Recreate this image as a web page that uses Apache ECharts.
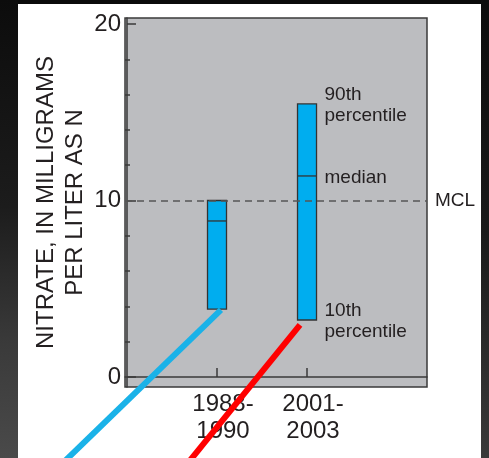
<!DOCTYPE html>
<html>
<head>
<meta charset="utf-8">
<script src="https://cdn.jsdelivr.net/npm/echarts@6/dist/echarts.min.js"></script>
<style>
  html, body { margin: 0; padding: 0; width: 489px; height: 458px; overflow: hidden; background: #0a0a0a; }
  #leftStrip { position: absolute; left: 0; top: 0; width: 18px; height: 458px;
    background: linear-gradient(to bottom, #0c0c0c 0%, #1c1c1c 45%, #3a3a3a 75%, #4a4a4a 100%); }
  #rightStrip { position: absolute; left: 481px; top: 0; width: 8px; height: 458px;
    background: linear-gradient(to bottom, #0c0c0c 0%, #1a1a1a 50%, #3a3a3a 100%); }
  #panel { position: absolute; left: 18px; top: 4px; width: 463px; height: 454px; background: #ffffff; }
  #chart { position: absolute; left: 0; top: 0; width: 489px; height: 458px; }
</style>
</head>
<body>
<div id="leftStrip"></div>
<div id="rightStrip"></div>
<div id="panel"></div>
<div id="chart"></div>
<script>
// ---- data ----
const categories = ['1988-\n1990', '2001-\n2003'];
const p10 = [3.85, 3.23];
const median = [8.84, 11.39];
const p90 = [10.0, 15.47];
const yMajorTicks = [0, 10, 20];
const yMinorTicks = [2, 4, 6, 8, 12, 14, 16, 18];
const mclValue = 10;
const blueLine = [[1.044, 3.80], [-0.793, -5.27]];
const redLine = [[1.922, 2.95], [0.614, -5.27]];
const annot = { high: '90th\npercentile', mid: 'median', low: '10th\npercentile' };

const FONT = '"Liberation Sans", Arial, sans-serif';
const TXT = '#231f20';

const chart = echarts.init(document.getElementById('chart'), null, { renderer: 'canvas' });

const boxData = categories.map((c, i) => [i + 1, p10[i], median[i], p90[i]]);
const arrowData = [
  [blueLine[0][0], blueLine[0][1], blueLine[1][0], blueLine[1][1], 0],
  [redLine[0][0], redLine[0][1], redLine[1][0], redLine[1][1], 1]
];
const arrowColors = ['#1ab2e8', '#ff0000'];

const option = {
  backgroundColor: 'transparent',
  animation: false,
  grid: {
    left: 125, right: 62, top: 18, bottom: 71,
    show: true, backgroundColor: '#bcbdc0', borderColor: '#3a3a3a', borderWidth: 1.5
  },
  xAxis: {
    type: 'value', min: -0.0222, max: 3.333,
    splitLine: { show: false },
    axisLine: { show: true, lineStyle: { color: '#3a3a3a', width: 1.5 } },
    axisTick: { show: true, inside: true, length: 9, customValues: [1, 2], lineStyle: { color: '#3a3a3a', width: 1.5 } },
    axisLabel: {
      customValues: [1, 2],
      formatter: v => categories[Math.round(v) - 1] || '',
      fontFamily: FONT, fontSize: 24, color: TXT, lineHeight: 27, margin: 4,
      padding: [0, 0, 0, 12]
    }
  },
  yAxis: [
    {
      type: 'value', min: -0.567, max: 20.34,
      splitLine: { show: false },
      axisLine: { show: true, lineStyle: { color: '#3a3a3a', width: 1.5 } },
      axisTick: { show: true, inside: true, length: 9, customValues: yMajorTicks, lineStyle: { color: '#3a3a3a', width: 1.5 } },
      axisLabel: { customValues: yMajorTicks, fontFamily: FONT, fontSize: 24, color: TXT, margin: 4 },
      name: 'NITRATE, IN MILLIGRAMS\nPER LITER AS N',
      nameLocation: 'middle', nameRotate: 90, nameGap: 35, nameMoveOverlap: false,
      nameTextStyle: { fontFamily: FONT, fontSize: 24, color: TXT, lineHeight: 29 }
    },
    {
      type: 'value', min: -0.567, max: 20.34, position: 'left', offset: 0,
      splitLine: { show: false },
      axisLine: { show: false },
      axisTick: { show: true, inside: true, length: 5, customValues: yMinorTicks, lineStyle: { color: '#3a3a3a', width: 1.5 } },
      axisLabel: { show: false }
    }
  ],
  series: [
    {
      type: 'custom',
      data: boxData,
      z: 5,
      renderItem: function (params, api) {
        const x = api.value(0), lo = api.value(1), md = api.value(2), hi = api.value(3);
        const pHi = api.coord([x, hi]);
        const pLo = api.coord([x, lo]);
        const pMd = api.coord([x, md]);
        const w = 19;
        const children = [
          { type: 'rect', shape: { x: pHi[0] - w / 2, y: pHi[1], width: w, height: pLo[1] - pHi[1] },
            style: { fill: '#00adef', stroke: '#333333', lineWidth: 1.3 } },
          { type: 'line', shape: { x1: pMd[0] - w / 2, y1: pMd[1], x2: pMd[0] + w / 2, y2: pMd[1] },
            style: { stroke: '#333333', lineWidth: 1.3 } }
        ];
        if (params.dataIndex === boxData.length - 1) {
          const tx = pHi[0] + w / 2 + 8;
          const ts = (t, y) => ({ type: 'text', x: tx, y: y + 1.5,
            style: { text: t, fontFamily: FONT, fontSize: 19, lineHeight: 21, fill: TXT, align: 'left', verticalAlign: 'middle' } });
          children.push(ts(annot.high, pHi[1]), ts(annot.mid, pMd[1]), ts(annot.low, pLo[1]));
        }
        return { type: 'group', children: children };
      }
    },
    {
      type: 'line', data: [], silent: true, z: 6,
      markLine: {
        silent: true, symbol: 'none', z: 6,
        lineStyle: { color: '#555555', width: 1.5, type: [7, 5] },
        label: { show: true, position: 'end', distance: 8, formatter: 'MCL', fontFamily: FONT, fontSize: 19, color: TXT },
        data: [{ yAxis: mclValue }]
      }
    },
    {
      type: 'custom', data: arrowData, silent: true, z: 10, clip: false,
      renderItem: function (params, api) {
        const a = api.coord([api.value(0), api.value(1)]);
        const b = api.coord([api.value(2), api.value(3)]);
        return { type: 'line', shape: { x1: a[0], y1: a[1], x2: b[0], y2: b[1] },
          style: { stroke: arrowColors[api.value(4)], lineWidth: 6, lineCap: 'butt' } };
      }
    }
  ]
};
chart.setOption(option);
</script>
</body>
</html>
